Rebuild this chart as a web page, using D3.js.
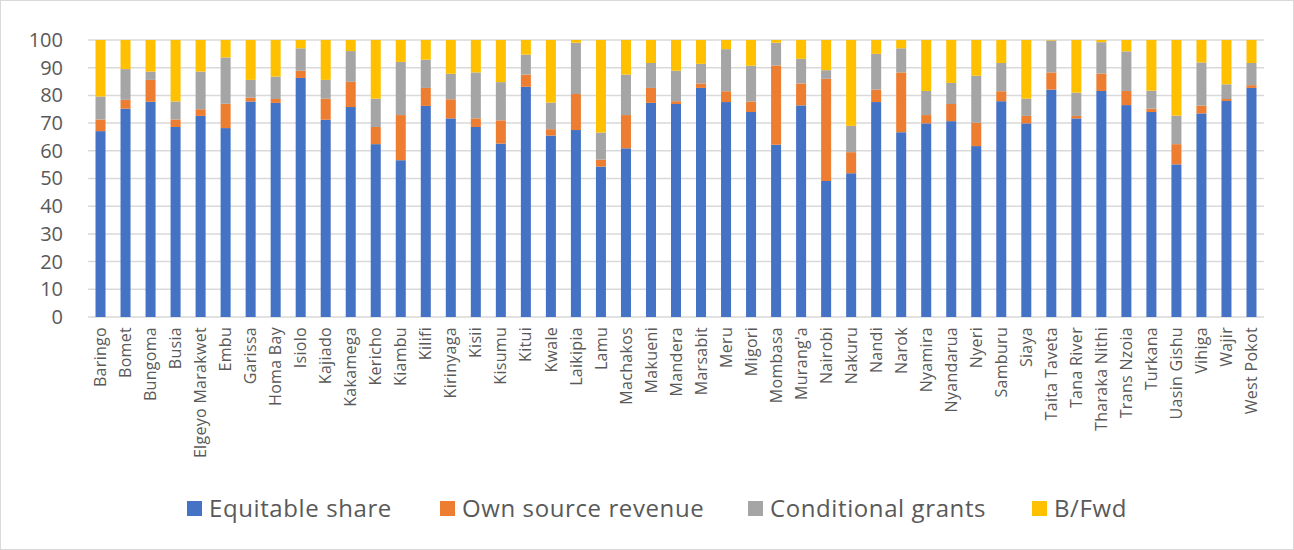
<!DOCTYPE html>
<html>
<head>
<meta charset="utf-8">
<script src="https://cdn.jsdelivr.net/npm/d3@7"></script>
<style>
  body { margin: 0; background: #fff; }
  svg { display: block; }
  text { font-family: "Open Sans", "Noto Sans", sans-serif; fill: #595959; }
</style>
</head>
<body>
<div id="chart"></div>
<script>
const counties = ["Baringo", "Bomet", "Bungoma", "Busia", "Elgeyo Marakwet", "Embu", "Garissa", "Homa Bay",
  "Isiolo", "Kajiado", "Kakamega", "Kericho", "Kiambu", "Kilifi", "Kirinyaga", "Kisii", "Kisumu", "Kitui",
  "Kwale", "Laikipia", "Lamu", "Machakos", "Makueni", "Mandera", "Marsabit", "Meru", "Migori", "Mombasa",
  "Murang'a", "Nairobi", "Nakuru", "Nandi", "Narok", "Nyamira", "Nyandarua", "Nyeri", "Samburu", "Siaya",
  "Taita Taveta", "Tana River", "Tharaka Nithi", "Trans Nzoia", "Turkana", "Uasin Gishu", "Vihiga", "Wajir",
  "West Pokot"];

const equitableShare = [67.1, 75.2, 77.7, 68.6, 72.6, 68.2, 77.8, 77.3, 86.3, 71.2, 75.8, 62.4, 56.6, 76.2,
  71.7, 68.6, 62.6, 83.1, 65.5, 67.5, 54.3, 60.9, 77.3, 76.9, 82.7, 77.6, 74.0, 62.2, 76.4, 49.1, 51.9, 77.6,
  66.7, 69.9, 70.7, 61.7, 77.9, 69.9, 82.1, 71.7, 81.6, 76.5, 74.0, 55.1, 73.5, 78.0, 82.7];
const ownSource = [4.2, 3.2, 7.9, 2.7, 2.4, 8.8, 1.4, 1.4, 2.6, 7.6, 9.1, 6.2, 16.3, 6.5, 6.9, 3.1, 8.4, 4.4,
  2.3, 13.0, 2.5, 12.0, 5.4, 1.0, 1.6, 3.9, 3.8, 28.6, 7.9, 36.9, 7.6, 4.5, 21.6, 3.0, 6.2, 8.4, 3.6, 2.7,
  6.2, 0.9, 6.3, 5.1, 1.2, 7.3, 2.8, 0.7, 1.0];
const conditional = [8.3, 11.1, 3.0, 6.5, 13.6, 16.7, 6.4, 8.1, 8.1, 6.8, 11.1, 10.2, 19.2, 10.2, 9.2, 16.6,
  13.8, 7.2, 9.6, 18.5, 9.8, 14.6, 9.0, 11.0, 7.1, 15.2, 12.9, 8.2, 8.9, 3.1, 9.5, 12.9, 8.7, 8.7, 7.6, 17.0,
  10.2, 6.2, 11.5, 8.4, 11.3, 14.3, 6.5, 10.3, 15.6, 5.3, 8.0];
const bFwd = [20.4, 10.5, 11.4, 22.2, 11.4, 6.3, 14.4, 13.2, 3.0, 14.4, 4.0, 21.2, 7.9, 7.1, 12.2, 11.7,
  15.2, 5.3, 22.6, 1.0, 33.4, 12.5, 8.3, 11.1, 8.6, 3.3, 9.3, 1.0, 6.8, 10.9, 31.0, 5.0, 3.0, 18.4, 15.5, 12.9,
  8.3, 21.2, 0.2, 19.0, 0.8, 4.1, 18.3, 27.3, 8.1, 16.0, 8.3];

const seriesNames = ["Equitable share", "Own source revenue", "Conditional grants", "B/Fwd"];
const seriesColors = ["#4472c4", "#ed7d31", "#a5a5a5", "#ffc000"];
const yTicks = [0, 10, 20, 30, 40, 50, 60, 70, 80, 90, 100];

const W = 1294, H = 550;
const margin = { top: 40, right: 30, bottom: 233, left: 88 };

const svg = d3.select("#chart").append("svg")
  .attr("width", W)
  .attr("height", H);

// chart area frame
svg.append("rect")
  .attr("x", 0.5).attr("y", 0.5)
  .attr("width", W - 1).attr("height", H - 1)
  .attr("fill", "#fff")
  .attr("stroke", "#d9d9d9");

const x = d3.scaleBand()
  .domain(counties)
  .range([margin.left, W - margin.right])
  .paddingInner(0.6)
  .paddingOuter(0.3);

const y = d3.scaleLinear()
  .domain([0, 100])
  .range([H - margin.bottom, margin.top]);

// gridlines
svg.append("g")
  .selectAll("line")
  .data(yTicks)
  .enter().append("line")
  .attr("x1", margin.left)
  .attr("x2", W - margin.right)
  .attr("y1", d => y(d))
  .attr("y2", d => y(d))
  .attr("stroke", "#d9d9d9")
  .attr("stroke-width", 1.5);

// stack the four series
const table = counties.map((c, i) => ({
  county: c,
  s0: equitableShare[i],
  s1: ownSource[i],
  s2: conditional[i],
  s3: bFwd[i]
}));
const stack = d3.stack().keys(["s0", "s1", "s2", "s3"]);
const layers = stack(table);

svg.append("g")
  .selectAll("g")
  .data(layers)
  .enter().append("g")
  .attr("fill", (d, i) => seriesColors[i])
  .selectAll("rect")
  .data(d => d)
  .enter().append("rect")
  .attr("x", d => x(d.data.county))
  .attr("width", x.bandwidth())
  .attr("y", d => y(d[1]))
  .attr("height", d => y(d[0]) - y(d[1]));

// y axis labels
const yAxis = d3.axisLeft(y).tickValues(yTicks).tickSize(0).tickPadding(25);
const yG = svg.append("g")
  .attr("transform", `translate(${margin.left},0)`)
  .call(yAxis);
yG.select(".domain").remove();
yG.selectAll("text")
  .attr("font-size", 20)
  .style("font-family", "'Open Sans', 'Noto Sans', sans-serif")
  .attr("fill", "#595959");

// x axis labels (rotated)
const xAxis = d3.axisBottom(x).tickSize(0).tickPadding(0);
const xG = svg.append("g")
  .attr("transform", `translate(0,${H - margin.bottom})`)
  .call(xAxis);
xG.select(".domain").remove();
xG.selectAll("text")
  .attr("font-size", 16)
  .style("font-family", "'Open Sans', 'Noto Sans', sans-serif")
  .style("letter-spacing", "0.3px")
  .attr("fill", "#595959")
  .attr("text-anchor", "end")
  .attr("transform", "rotate(-90)")
  .attr("x", -10)
  .attr("y", 0)
  .attr("dy", "0.35em");

// legend
const legendX = [187, 440, 748, 1032];
const legend = svg.append("g")
  .selectAll("g")
  .data(seriesNames)
  .enter().append("g")
  .attr("transform", (d, i) => `translate(${legendX[i]},509)`);

legend.append("rect")
  .attr("x", 0)
  .attr("y", -8)
  .attr("width", 15)
  .attr("height", 15)
  .attr("fill", (d, i) => seriesColors[i]);

legend.append("text")
  .attr("x", 22)
  .attr("y", 0)
  .attr("dy", "0.35em")
  .attr("font-size", 24)
  .style("letter-spacing", "0.6px")
  .text(d => d);
</script>
</body>
</html>
